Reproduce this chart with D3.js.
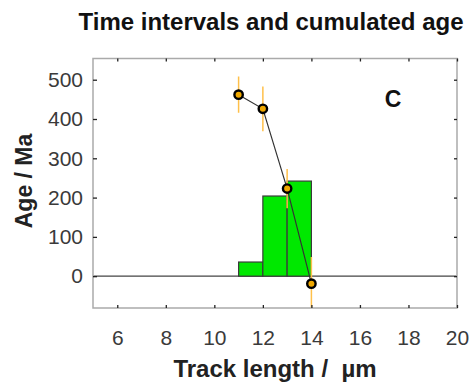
<!DOCTYPE html>
<html><head><meta charset="utf-8">
<script src="https://cdn.jsdelivr.net/npm/d3@7/dist/d3.min.js"></script>
<style>body{margin:0;background:#fff;}svg{display:block;font-family:"Liberation Sans",Arial,sans-serif;}</style>
</head><body>
<svg id="c" width="476" height="387"></svg>
<script>
// Histogram of time intervals
const binStart = [11, 12, 13];
const binEnd = [12, 13, 14];
const binAge = [36, 204, 242];
// Cumulated ages
const ptLength = [11, 12, 13, 14];
const ptAge = [462, 426, 223, -19];
const ptErr = [46, 57, 50, 68];
const xTicks = [6, 8, 10, 12, 14, 16, 18, 20];
const yTicks = [0, 100, 200, 300, 400, 500];

const svg = d3.select("#c");
const L = 93, R = 457, T = 58.5, B = 308;
const x = d3.scaleLinear().domain([5, 20]).range([L, R]);
const y = d3.scaleLinear().domain([-81, 554]).range([B, T]);

svg.append("defs").append("clipPath").attr("id", "clip")
  .append("rect").attr("x", L).attr("y", T).attr("width", R - L).attr("height", B - T);

const g = svg.append("g").attr("clip-path", "url(#clip)");
// zero line
g.append("line").attr("x1", L).attr("x2", R).attr("y1", y(0)).attr("y2", y(0))
  .attr("stroke", "#444").attr("stroke-width", 1.2);
// bars
g.selectAll("rect.bar").data(binAge).enter().append("rect")
  .attr("x", (d, i) => x(binStart[i])).attr("width", (d, i) => x(binEnd[i]) - x(binStart[i]))
  .attr("y", d => y(d)).attr("height", d => y(0) - y(d))
  .attr("fill", "#00e800").attr("stroke", "#3a3a3a").attr("stroke-width", 1.2);
// error bars
g.selectAll("line.err").data(ptAge).enter().append("line")
  .attr("x1", (d, i) => x(ptLength[i])).attr("x2", (d, i) => x(ptLength[i]))
  .attr("y1", (d, i) => y(d - ptErr[i])).attr("y2", (d, i) => y(d + ptErr[i]))
  .attr("stroke", "#ffc04a").attr("stroke-width", 1.5);
// line
g.append("path").datum(ptAge)
  .attr("d", d3.line().x((d, i) => x(ptLength[i])).y(d => y(d)))
  .attr("fill", "none").attr("stroke", "#333").attr("stroke-width", 1.2);
// points
g.selectAll("circle.pt").data(ptAge).enter().append("circle")
  .attr("cx", (d, i) => x(ptLength[i])).attr("cy", d => y(d)).attr("r", 4.2)
  .attr("fill", "#f0a800").attr("stroke", "#000").attr("stroke-width", 2.4);

// box
svg.append("rect").attr("x", L).attr("y", T).attr("width", R - L).attr("height", B - T)
  .attr("fill", "none").attr("stroke", "#aaa").attr("stroke-width", 1.5);

// axes with inward ticks
const axB = svg.append("g").attr("transform", `translate(0,${B})`)
  .call(d3.axisBottom(x).tickValues(xTicks).tickSize(-3).tickPadding(22));
const axT = svg.append("g").attr("transform", `translate(0,${T})`)
  .call(d3.axisTop(x).tickValues(xTicks).tickSize(-3).tickFormat(""));
const axL = svg.append("g").attr("transform", `translate(${L},0)`)
  .call(d3.axisLeft(y).tickValues(yTicks).tickSize(-4).tickPadding(10));
const axR = svg.append("g").attr("transform", `translate(${R},0)`)
  .call(d3.axisRight(y).tickValues(yTicks).tickSize(-3).tickFormat(""));
[axB, axT, axL, axR].forEach(a => {
  a.select(".domain").remove();
  a.selectAll(".tick line").attr("stroke", "#222").attr("stroke-width", 1.3);
  a.selectAll(".tick text").attr("fill", "#3a3a3a").attr("font-size", 21)
    .attr("font-family", "Liberation Sans, Arial, sans-serif");
});

// title and labels
svg.append("text").attr("x", 271).attr("y", 29.5).attr("text-anchor", "middle")
  .attr("font-size", 24).attr("font-weight", "bold").attr("fill", "#111")
  .text("Time intervals and cumulated age");
svg.append("text").attr("x", 275).attr("y", 377).attr("text-anchor", "middle")
  .attr("font-size", 24).attr("font-weight", "bold").attr("fill", "#222")
  .style("white-space", "pre")
  .text("Track length /  µm");
svg.append("text").attr("transform", "translate(32,181) rotate(-90)").attr("text-anchor", "middle")
  .attr("font-size", 23).attr("font-weight", "bold").attr("fill", "#222")
  .text("Age / Ma");
svg.append("text").attr("x", 393).attr("y", 106.5).attr("text-anchor", "middle")
  .attr("font-size", 23).attr("font-weight", "bold").attr("fill", "#111")
  .text("C");
</script>
</body></html>
